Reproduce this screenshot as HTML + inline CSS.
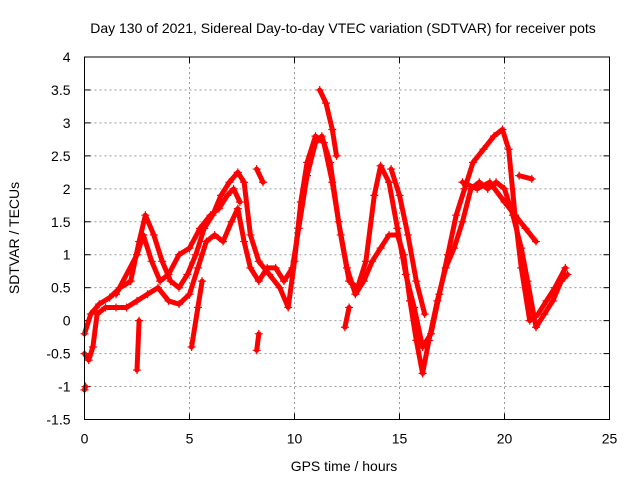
<!DOCTYPE html>
<html><head><meta charset="utf-8"><style>
body{margin:0;background:#fff}
svg{display:block;font-family:"Liberation Sans",sans-serif;font-size:14px}
</style></head><body>
<svg id="chart" width="640" height="480">
<text x="343" y="33" text-anchor="middle">Day 130 of 2021, Sidereal Day-to-day VTEC variation (SDTVAR) for receiver pots</text>
<text x="344" y="471" text-anchor="middle">GPS time / hours</text>
<text transform="translate(19,238) rotate(-90)" text-anchor="middle">SDTVAR / TECUs</text>
<g id="grid"></g><g id="marks"></g>
<rect x="84.5" y="57" width="525" height="362.5" fill="none" stroke="#000" stroke-width="1"/>
</svg>
<script>
const xTicks=[0,5,10,15,20,25];
const yTicks=[-1.5,-1,-0.5,0,0.5,1,1.5,2,2.5,3,3.5,4];
const seriesA=[[0,-0.2],[0.3,0.1],[0.7,0.25],[1.2,0.35],[1.7,0.5],[2.2,0.6],[2.6,1.2],[2.9,1.6],[3.3,1.3],[3.7,0.9],[4.1,0.6],[4.5,0.5],[4.9,0.7],[5.3,1.0],[5.7,1.4],[6.1,1.6],[6.5,1.9],[6.9,2.1],[7.3,2.25],[7.6,2.1],[7.9,1.3],[8.3,0.9],[8.8,0.7],[9.3,0.5],[9.7,0.2],[10.0,0.9],[10.3,1.8],[10.6,2.4],[11.0,2.8],[11.4,2.7],[11.8,2.1],[12.2,1.3],[12.6,0.6],[13.0,0.5],[13.4,0.9],[13.8,1.9],[14.1,2.35],[14.5,2.1],[14.9,1.4],[15.3,0.7],[15.7,0.2],[16.1,-0.4],[16.5,-0.2],[16.9,0.4],[17.3,1.0],[17.7,1.6],[18.1,2.0],[18.5,2.4],[19.0,2.6],[19.5,2.8],[19.9,2.9],[20.2,2.6],[20.5,1.6],[20.8,0.8],[21.2,0.0],[21.6,0.1],[22.0,0.3],[22.4,0.5],[22.9,0.8]];
const seriesB=[[0,-0.5],[0.2,-0.6],[0.4,-0.4],[0.6,0.1],[1.0,0.2],[1.5,0.2],[2.0,0.2],[2.5,0.3],[3.0,0.4],[3.5,0.5],[4.0,0.3],[4.5,0.25],[5.0,0.4],[5.4,0.8],[5.8,1.2],[6.2,1.3],[6.6,1.2],[7.0,1.5],[7.3,1.7],[7.6,1.2],[7.9,0.8],[8.3,0.6],[8.7,0.8],[9.1,0.8],[9.5,0.6],[9.9,0.8],[10.2,1.4],[10.6,2.2],[11.0,2.7],[11.3,2.8],[11.7,2.4],[12.1,1.5],[12.5,0.8],[12.9,0.4],[13.3,0.6],[13.7,0.9],[14.1,1.1],[14.5,1.3],[14.9,1.3],[15.2,1.0],[15.5,0.3],[15.8,-0.3],[16.1,-0.8],[16.4,-0.3],[16.8,0.3],[17.2,0.8],[17.6,1.1],[18.0,1.5],[18.4,2.0],[18.8,2.1],[19.2,2.0],[19.6,2.1],[20.0,2.0],[20.4,1.6],[20.8,1.1],[21.1,0.6],[21.5,-0.1],[21.9,0.1],[22.3,0.3],[22.7,0.6],[23.0,0.7]];
const seriesC=[[1.5,0.4],[2.5,1.0],[2.8,1.3],[3.2,0.9],[3.6,0.6],[4.0,0.7],[4.5,1.0],[5.0,1.1],[5.5,1.4],[6.0,1.6],[6.4,1.7],[6.8,1.9],[7.1,2.0],[7.4,1.8]];
const seriesD=[[11.2,3.5],[11.5,3.3],[11.8,2.9],[12.0,2.5]];
const seriesE=[[14.6,2.3],[15.0,1.9],[15.4,1.3],[15.8,0.6],[16.2,0.1]];
const seriesF=[[18.0,2.1],[18.7,2.0],[19.3,2.1],[20.0,1.8],[20.5,1.6],[21.0,1.4],[21.5,1.2]];
const seriesG=[[12.4,-0.1],[12.6,0.2]];
const seriesH=[[5.1,-0.4],[5.4,0.2],[5.6,0.6]];
const seriesI=[[8.2,-0.45],[8.3,-0.2]];
const seriesJ=[[8.2,2.3],[8.5,2.1]];
const seriesK=[[2.5,-0.75],[2.6,0.0]];
const seriesL=[[20.7,2.2],[21.3,2.15]];
const seriesM=[[0,-1.05],[0.05,-1.0]];
const allSeries=[seriesA,seriesB,seriesC,seriesD,seriesE,seriesF,seriesG,seriesH,seriesI,seriesJ,seriesK,seriesL,seriesM];
const NS='http://www.w3.org/2000/svg';
const X0=84.5,X1=609.5,Y0=419.5,Y1=57,xmin=0,xmax=25,ymin=-1.5,ymax=4;
const sx=v=>X0+(v-xmin)/(xmax-xmin)*(X1-X0);
const sy=v=>Y0-(v-ymin)/(ymax-ymin)*(Y0-Y1);
const grid=document.getElementById('grid'),marks=document.getElementById('marks');
function mk(t,a,p){const e=document.createElementNS(NS,t);for(const k in a)e.setAttribute(k,a[k]);p.appendChild(e);return e;}
xTicks.forEach(t=>{const x=sx(t);
 if(t>xmin&&t<xmax){const g=mk('line',{x1:x,x2:x,y1:Y1,y2:Y0,stroke:'#999','stroke-dasharray':'2,3'},grid);
 
 }
 mk('line',{x1:x,x2:x,y1:Y0,y2:Y0-6,stroke:'#000'},grid);mk('line',{x1:x,x2:x,y1:Y1,y2:Y1+6,stroke:'#000'},grid);
 const l=mk('text',{x:x,y:Y0+24,'text-anchor':'middle'},grid);l.textContent=t;
 
 });
yTicks.forEach(t=>{const y=sy(t);
 if(t>ymin&&t<ymax){const g=mk('line',{x1:X0,x2:X1,y1:y,y2:y,stroke:'#999','stroke-dasharray':'2,3'},grid);
 
 }
 mk('line',{x1:X0,x2:X0+6,y1:y,y2:y,stroke:'#000'},grid);mk('line',{x1:X1,x2:X1-6,y1:y,y2:y,stroke:'#000'},grid);
 const l=mk('text',{x:X0-14,y:y+5,'text-anchor':'end'},grid);l.textContent=t;
 
 });
allSeries.forEach(s=>{
 const pl=mk('polyline',{points:s.map(p=>sx(p[0])+','+sy(p[1])).join(' '),fill:'none',stroke:'#f00','stroke-width':5,'stroke-linejoin':'round','stroke-linecap':'round'},marks);
 
 
 s.forEach(p=>{const x=sx(p[0]),y=sy(p[1]);
  const m=mk('path',{d:`M${x-4},${y}H${x+4}M${x},${y-4}V${y+4}`,stroke:'#f00','stroke-width':1.2},marks);
  
  });
});
</script>
</body></html>
